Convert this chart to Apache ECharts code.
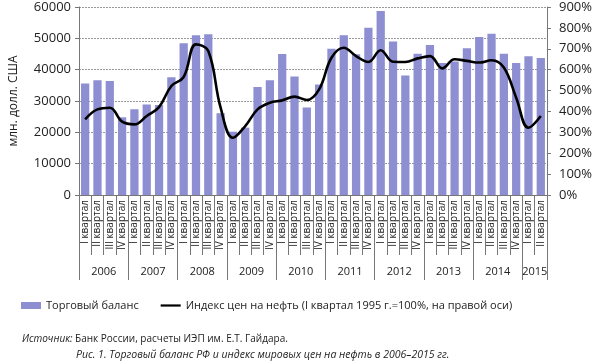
<!DOCTYPE html>
<html><head><meta charset="utf-8">
<script src="https://cdn.jsdelivr.net/npm/echarts@6/dist/echarts.min.js"></script>
<style>html,body{margin:0;padding:0;background:#fff}#c{width:595px;height:364px}</style>
</head><body><div id="c"></div>
<script>
const years = ['2006','2007','2008','2009','2010','2011','2012','2013','2014','2015'];
const quarterNames = ['I квартал','II квартал','III квартал','IV квартал'];
const tradeBalance = [35600,36600,36400,24800, 27400,28900,28700,37600, 48400,51000,51300,26100,
  20200,21500,34500,36600, 45000,37800,27900,35300, 46700,51000,44900,53400,
  58700,49000,38100,45100, 47900,42100,42600,46800, 50400,51500,45100,42100, 44300,43700];
const oilIndex = [362,410,418,351, 338,378,421,522, 565,721,689,418,
  274,330,410,442, 453,471,455,506, 657,705,665,637,
  693,638,637,654, 665,606,650,642, 634,645,610,466, 322,378];
const leftTicks = {min:0, max:60000, interval:10000};
const rightTicks = {min:0, max:900, interval:100};

const cats = [];
years.forEach((y) => {
  const n = (y === '2015') ? 2 : 4;
  for (let q = 0; q < n; q++) cats.push(quarterNames[q] + '|' + y);
});
const font = 'Open Sans';
const axisGray = '#777';
const chart = echarts.init(document.getElementById('c'), null, {renderer:'canvas'});
chart.setOption({
  animation:false,
  textStyle:{fontFamily:font},
  grid:{left:73, right:48, top:7, bottom:169},
  title:[
    {text:'{i|Источник:} Банк России, расчеты ИЭП им. Е.Т. Гайдара.', left:17, top:329,
     textStyle:{fontFamily:font, fontSize:10, fontWeight:'normal', color:'#222',
       rich:{i:{fontFamily:font, fontSize:10, fontStyle:'italic', color:'#222'}}}},
    {text:'Рис. 1. Торговый баланс РФ и индекс мировых цен на нефть в 2006–2015 гг.', left:71, top:345,
     textStyle:{fontFamily:font, fontSize:10.5, fontWeight:'normal', fontStyle:'italic', color:'#222'}}
  ],
  legend:{left:16, top:295, itemWidth:20, itemHeight:7, itemGap:22,
    textStyle:{fontFamily:font, fontSize:11, color:'#222'},
    data:[{name:'Торговый баланс', icon:'rect'},
          {name:'Индекс цен на нефть (I квартал 1995 г.=100%, на правой оси)',
           icon:'path://M0,0 M20,7 M0,2.4 L20,2.4 L20,4.6 L0,4.6 Z',
           itemStyle:{color:'#000'}}]},
  xAxis:[
    {type:'category', data:cats, boundaryGap:true,
     axisLine:{lineStyle:{color:axisGray}},
     axisTick:{show:true, interval:0, length:60, lineStyle:{color:axisGray, width:1}},
     axisLabel:{interval:0, rotate:90, margin:5, fontSize:10, color:'#222', fontFamily:font,
       formatter:v => v.split('|')[0]}},
    {type:'category', data:cats, boundaryGap:true, position:'bottom',
     axisLine:{show:false},
     axisTick:{show:true, length:85, lineStyle:{color:axisGray, width:1},
       interval:(i) => i % 4 === 0},
     axisLabel:{margin:71, fontSize:11, color:'#222', fontFamily:font,
       interval:(i) => (i % 4 === 1 && i < 36) || i === 36,
       formatter:v => '{a|' + v.split('|')[1] + '}',
       rich:{a:{padding:[0,0,0,12.5], fontSize:11, fontFamily:font, color:'#222'}}}}
  ],
  yAxis:[
    {type:'value', min:leftTicks.min, max:leftTicks.max, interval:leftTicks.interval,
     name:'млн. долл. США', nameLocation:'middle', nameGap:59, nameRotate:90,
     nameTextStyle:{fontSize:12, color:'#222', fontFamily:font},
     axisLine:{show:true, lineStyle:{color:axisGray}},
     axisTick:{show:true, length:4, lineStyle:{color:axisGray}},
     axisLabel:{fontSize:13, color:'#222', margin:8, fontFamily:font, formatter:v => String(v)},
     splitLine:{show:true, lineStyle:{color:'#999', type:[2,1]}}},
    {type:'value', min:rightTicks.min, max:rightTicks.max, interval:rightTicks.interval,
     position:'right',
     axisLine:{show:true, lineStyle:{color:axisGray}},
     axisTick:{show:true, length:4, lineStyle:{color:axisGray}},
     axisLabel:{fontSize:13, color:'#222', margin:12, fontFamily:font, formatter:'{value}%'},
     splitLine:{show:false}}
  ],
  series:[
    {name:'Торговый баланс', type:'bar', data:tradeBalance, xAxisIndex:0, yAxisIndex:0,
     barCategoryGap:'33%', itemStyle:{color:'#8d8fd2'}},
    {name:'Индекс цен на нефть (I квартал 1995 г.=100%, на правой оси)', type:'line', data:oilIndex,
     xAxisIndex:0, yAxisIndex:1, smooth:0.4, symbol:'none',
     lineStyle:{color:'#000', width:2.6}, itemStyle:{color:'#000'}}
  ]
});
</script></body></html>
